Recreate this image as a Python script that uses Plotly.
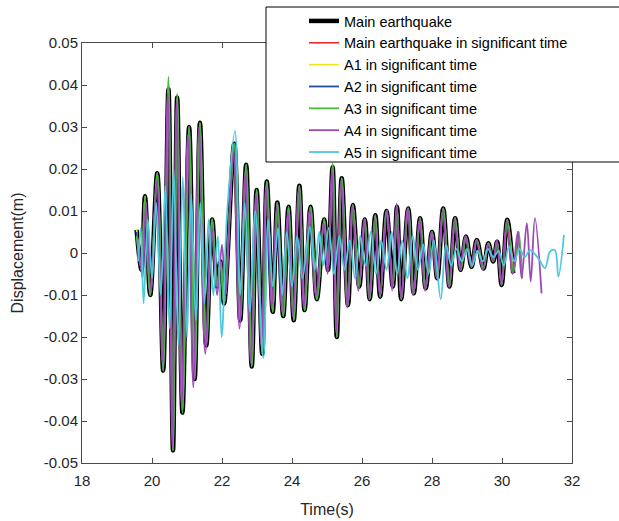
import plotly.graph_objects as go

# Time/displacement turning points of each record (s, m)
main_t = [19.56, 19.70, 19.80, 19.95, 20.15, 20.32, 20.47, 20.60, 20.72, 20.87,
          21.06, 21.22, 21.37, 21.55, 21.72, 21.86, 21.96, 22.06, 22.35, 22.52,
          22.69, 22.85, 22.99, 23.15, 23.28, 23.45, 23.58, 23.75, 23.90, 24.05,
          24.21, 24.36, 24.53, 24.71, 24.92, 25.03, 25.16, 25.28, 25.42, 25.60,
          25.74, 25.92, 26.08, 26.22, 26.38, 26.52, 26.70, 26.88, 27.00, 27.12,
          27.32, 27.48, 27.66, 27.82, 28.00, 28.15, 28.32, 28.50, 28.66, 28.82,
          28.97, 29.13, 29.28, 29.47, 29.61, 29.75, 29.86, 29.99, 30.15, 30.32]
main_v = [0.0055, -0.004, 0.0135, -0.010, 0.019, -0.028, 0.039, -0.047, 0.037, -0.038,
          0.030, -0.030, 0.031, -0.022, 0.008, -0.008, -0.002, -0.012, 0.026, -0.016,
          0.021, -0.027, 0.015, -0.024, 0.017, -0.014, 0.012, -0.015, 0.011, -0.016,
          0.016, -0.0136, 0.011, -0.011, 0.008, -0.004, 0.0205, -0.020, 0.0178, -0.0124,
          0.0114, -0.008, 0.008, -0.011, 0.009, -0.0104, 0.010, -0.008, 0.011, -0.011,
          0.0106, -0.0096, 0.0083, -0.0084, 0.005, -0.006, 0.0106, -0.008, 0.0083, -0.004,
          0.0039, -0.0033, 0.0031, -0.0037, 0.0023, -0.002, 0.0027, -0.0076, 0.0079, -0.0048]

a1_t = main_t
a1_v = main_v

a2_t = main_t + [30.47]
a2_v = [0.005, -0.004, 0.013, -0.010, 0.019, -0.028, 0.040, -0.047, 0.037, -0.038,
        0.030, -0.030, 0.030, -0.022, 0.008, -0.008, -0.002, -0.012, 0.026, -0.016,
        0.021, -0.027, 0.015, -0.024, 0.017, -0.014, 0.012, -0.015, 0.011, -0.016,
        0.016, -0.0136, 0.011, -0.011, 0.008, -0.004, 0.021, -0.020, 0.0178, -0.0124,
        0.0114, -0.008, 0.008, -0.011, 0.009, -0.0104, 0.010, -0.008, 0.011, -0.011,
        0.0106, -0.0096, 0.0083, -0.0084, 0.005, -0.006, 0.0106, -0.008, 0.0083, -0.004,
        0.0039, -0.0033, 0.0031, -0.0037, 0.0023, -0.002, 0.0027, -0.0076, 0.0079, -0.0048,
        0.0051]

a3_t = main_t + [30.47, 30.58]
a3_v = [0.004, -0.004, 0.0135, -0.010, 0.019, -0.028, 0.042, -0.047, 0.038, -0.038,
        0.030, -0.030, 0.031, -0.022, 0.008, -0.008, -0.002, -0.012, 0.026, -0.016,
        0.021, -0.027, 0.015, -0.024, 0.017, -0.014, 0.012, -0.015, 0.011, -0.016,
        0.016, -0.0136, 0.011, -0.011, 0.008, -0.004, 0.0214, -0.020, 0.0178, -0.0124,
        0.0114, -0.008, 0.008, -0.011, 0.009, -0.0104, 0.010, -0.008, 0.011, -0.011,
        0.0106, -0.0096, 0.0083, -0.0084, 0.005, -0.006, 0.0106, -0.008, 0.0083, -0.004,
        0.0039, -0.0033, 0.0031, -0.0037, 0.0023, -0.002, 0.0027, -0.0076, 0.0079, -0.0048,
        0.0051, -0.006]

a4_t = [19.62, 19.73, 19.83, 19.97, 20.14, 20.30, 20.45, 20.58, 20.70, 20.84,
        21.02, 21.18, 21.34, 21.52, 21.70, 21.86, 22.00, 22.10, 22.32, 22.50,
        22.66, 22.82, 22.97, 23.12, 23.26, 23.42, 23.56, 23.72, 23.88, 24.02,
        24.19, 24.34, 24.50, 24.68, 24.90, 25.02, 25.14, 25.26, 25.40, 25.58,
        25.72, 25.90, 26.06, 26.20, 26.36, 26.51, 26.72, 26.86, 26.99, 27.12,
        27.30, 27.46, 27.64, 27.80, 27.98, 28.13, 28.30, 28.48, 28.64, 28.80,
        28.95, 29.11, 29.27, 29.45, 29.60, 29.74, 29.85, 29.98, 30.13, 30.30,
        30.45, 30.56, 30.71, 30.82, 30.94, 31.13]
a4_v = [0.003, -0.006, 0.012, -0.009, 0.017, -0.026, 0.038, -0.046, 0.036, -0.036,
        0.028, -0.032, 0.030, -0.024, 0.006, -0.010, 0.002, -0.010, 0.024, -0.018,
        0.019, -0.026, 0.014, -0.022, 0.016, -0.013, 0.011, -0.014, 0.010, -0.015,
        0.015, -0.013, 0.010, -0.010, 0.007, -0.005, 0.020, -0.019, 0.017, -0.013,
        0.011, -0.009, 0.008, -0.011, 0.008, -0.010, 0.0102, -0.009, 0.0118, -0.011,
        0.0106, -0.010, 0.008, -0.009, 0.005, -0.006, 0.010, -0.008, 0.008, -0.004,
        0.004, -0.003, 0.003, -0.004, 0.002, -0.002, 0.003, -0.0076, 0.0075, -0.005,
        0.005, -0.006, 0.0071, -0.0068, 0.0083, -0.0096]

a5_t = [19.60, 19.68, 19.76, 19.88, 20.00, 20.12, 20.25, 20.38, 20.50, 20.62,
        20.75, 20.88, 21.00, 21.12, 21.25, 21.38, 21.50, 21.62, 21.75, 21.88,
        21.99, 22.15, 22.37, 22.52, 22.65, 22.80, 22.95, 23.18, 23.32, 23.45,
        23.60, 23.72, 23.85, 24.00, 24.15, 24.30, 24.51, 24.65, 24.78, 24.90,
        25.05, 25.20, 25.35, 25.50, 25.65, 25.80, 25.95, 26.10, 26.25, 26.40,
        26.55, 26.70, 26.85, 27.00, 27.15, 27.30, 27.45, 27.60, 27.75, 27.90,
        28.05, 28.25, 28.40, 28.55, 28.70, 28.85, 29.00, 29.15, 29.30, 29.45,
        29.60, 29.75, 29.90, 30.05, 30.20, 30.35, 30.50, 30.65, 30.80, 31.04,
        31.23, 31.37, 31.51, 31.61, 31.77]
a5_v = [-0.002, 0.006, -0.012, 0.008, -0.006, 0.012, -0.010, 0.016, -0.018, 0.020,
        -0.022, 0.018, -0.020, 0.014, -0.016, 0.012, -0.012, 0.008, -0.010, 0.004,
        -0.020, 0.010, 0.029, -0.010, 0.012, -0.014, 0.010, -0.025, 0.008, -0.008,
        0.006, -0.010, 0.005, -0.008, 0.004, -0.006, 0.0063, -0.004, 0.005, -0.003,
        0.006, -0.005, 0.004, -0.004, 0.003, -0.006, 0.004, -0.003, 0.005, -0.005,
        0.003, -0.004, 0.005, -0.005, 0.003, -0.006, 0.004, -0.004, 0.002, -0.005,
        0.003, -0.011, 0.002, -0.003, 0.001, -0.002, 0.001, -0.003, 0.0005, -0.002,
        0.001, -0.001, 0.0005, -0.003, 0.0015, -0.002, 0.001, -0.001, 0.0007, -0.0013,
        -0.0036, 0.0003, 0.0007, -0.0056, 0.0043]

x_ticks = [18, 20, 22, 24, 26, 28, 30, 32]
y_ticks = [0.05, 0.04, 0.03, 0.02, 0.01, 0, -0.01, -0.02, -0.03, -0.04, -0.05]
y_tick_text = ["0.05", "0.04", "0.03", "0.02", "0.01", "0",
               "-0.01", "-0.02", "-0.03", "-0.04", "-0.05"]

series = [
    ("Main earthquake", main_t, main_v, "#000000", 4.5),
    ("Main earthquake in significant time", main_t, main_v, "#ee2a2a", 1.6),
    ("A1 in significant time", a1_t, a1_v, "#f2e21c", 1.6),
    ("A2 in significant time", a2_t, a2_v, "#1d4f9e", 1.8),
    ("A3 in significant time", a3_t, a3_v, "#4cbb3c", 1.8),
    ("A4 in significant time", a4_t, a4_v, "#9b4ab3", 1.8),
    ("A5 in significant time", a5_t, a5_v, "#4ec8dc", 1.8),
]

fig = go.Figure()
for name, t, v, color, w in series:
    fig.add_trace(go.Scatter(
        x=t, y=v, name=name, mode="lines",
        line=dict(color=color, width=w, shape="spline", smoothing=1.0),
    ))

font_family = "Liberation Sans, Arial, sans-serif"
axis_color = "#4a4a4a"

# plot area in pixels: x 82..572, y 43..463
def px_x(p):
    return (p - 82) / 490.0


def px_y(p):
    return (463 - p) / 420.0


# legend frame: white box that runs off the right edge of the figure
fig.add_shape(
    type="rect", xref="paper", yref="paper",
    x0=px_x(266), x1=px_x(640), y0=px_y(162), y1=px_y(7),
    line=dict(color="#000000", width=1), fillcolor="white", layer="above",
)

fig.update_layout(
    width=619, height=521,
    margin=dict(l=82, r=47, t=43, b=58, autoexpand=False),
    paper_bgcolor="white", plot_bgcolor="white",
    font=dict(family=font_family, size=14, color="#262626"),
    showlegend=True,
    legend=dict(
        x=px_x(266), y=px_y(5), xanchor="left", yanchor="top",
        bgcolor="rgba(0,0,0,0)", borderwidth=0,
        font=dict(family=font_family, size=14.5, color="#000000"),
        indentation=38,
        tracegroupgap=0,
    ),
    xaxis=dict(
        range=[18, 32], tickvals=x_ticks, ticks="inside", ticklen=5,
        tickcolor=axis_color, showline=True, linecolor=axis_color, linewidth=1,
        mirror="ticks", showgrid=False, zeroline=False,
        ticklabelstandoff=4,
        title=dict(text="Time(s)", font=dict(size=16), standoff=15),
        tickfont=dict(size=15),
    ),
    yaxis=dict(
        range=[-0.05, 0.05], tickvals=y_ticks, ticktext=y_tick_text,
        ticks="inside", ticklen=5,
        tickcolor=axis_color, showline=True, linecolor=axis_color, linewidth=1,
        mirror="ticks", showgrid=False, zeroline=False,
        title=dict(text="Displacement(m)", font=dict(size=16), standoff=16),
        tickfont=dict(size=15),
    ),
)

fig.write_html("out.html")
